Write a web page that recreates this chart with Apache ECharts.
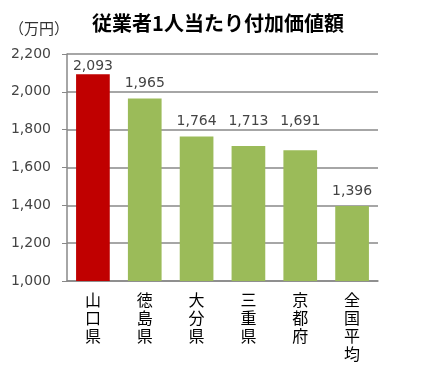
<!DOCTYPE html>
<html><head><meta charset="utf-8">
<script src="https://cdn.jsdelivr.net/npm/echarts@6/dist/echarts.min.js"></script>
<style>html,body{margin:0;padding:0;background:#fff}#c{width:423px;height:374px}</style>
</head><body><div id="c"></div>
<script>
const categories = ['山口県','徳島県','大分県','三重県','京都府','全国平均'];
const values = [2093, 1965, 1764, 1713, 1691, 1396];
const barColors = ['#C00000','#9BBB59','#9BBB59','#9BBB59','#9BBB59','#9BBB59'];
// label anchor value: labels of 三重県 and 京都府 sit level with 大分県's label
const labelAnchor = [2093, 1965, 1764, 1764, 1764, 1396];
const labelGap = [1, 8, 8, 8, 8, 8];
const chart = echarts.init(document.getElementById('c'));
const font = '"Noto Sans CJK JP", sans-serif';
const numFont = '"DejaVu Sans", sans-serif';
function build(offsets) {
  return {
    animation: false,
    textStyle: {fontFamily: font},
    title: {text: '従業者1人当たり付加価値額', left: 213, top: 8, textAlign: 'center',
      textStyle: {fontSize: 20, fontWeight: 'bold', color: '#000', fontFamily: font}},
    graphic: [{type: 'text', left: 9, top: 21, style: {text: '（万円）', fill: '#333', font: '15px ' + font}}],
    grid: {left: 67, right: 45, top: 54, bottom: 93},
    xAxis: {type: 'category', data: categories,
      axisLine: {show: true, lineStyle: {color: '#888', width: 1.5}},
      axisTick: {show: false},
      axisLabel: {interval: 0, color: '#000', fontSize: 16, lineHeight: 18, margin: 10,
        formatter: v => v.split('').join('\n')}},
    yAxis: {type: 'value', min: 1000, max: 2200, interval: 200,
      axisLine: {show: true, lineStyle: {color: '#888', width: 1.5}},
      axisTick: {show: true, length: 5, lineStyle: {color: '#888'}},
      splitLine: {lineStyle: {color: '#888', width: 1.5}},
      axisLabel: {color: '#444', fontSize: 14, fontFamily: numFont, margin: 16, formatter: v => v.toLocaleString('en-US')}},
    series: [{type: 'bar', barWidth: '65%',
      data: values.map((v, i) => ({value: v, itemStyle: {color: barColors[i]},
        label: {distance: labelGap[i], offset: [0, offsets[i]]}})),
      label: {show: true, position: 'top', color: '#444', fontSize: 14, fontFamily: numFont,
        formatter: p => p.value.toLocaleString('en-US')}}]
  };
}
chart.setOption(build(values.map(() => 0)));
const offsets = values.map((v, i) =>
  chart.convertToPixel({yAxisIndex: 0}, labelAnchor[i]) - chart.convertToPixel({yAxisIndex: 0}, v));
chart.setOption(build(offsets));
</script></body></html>
